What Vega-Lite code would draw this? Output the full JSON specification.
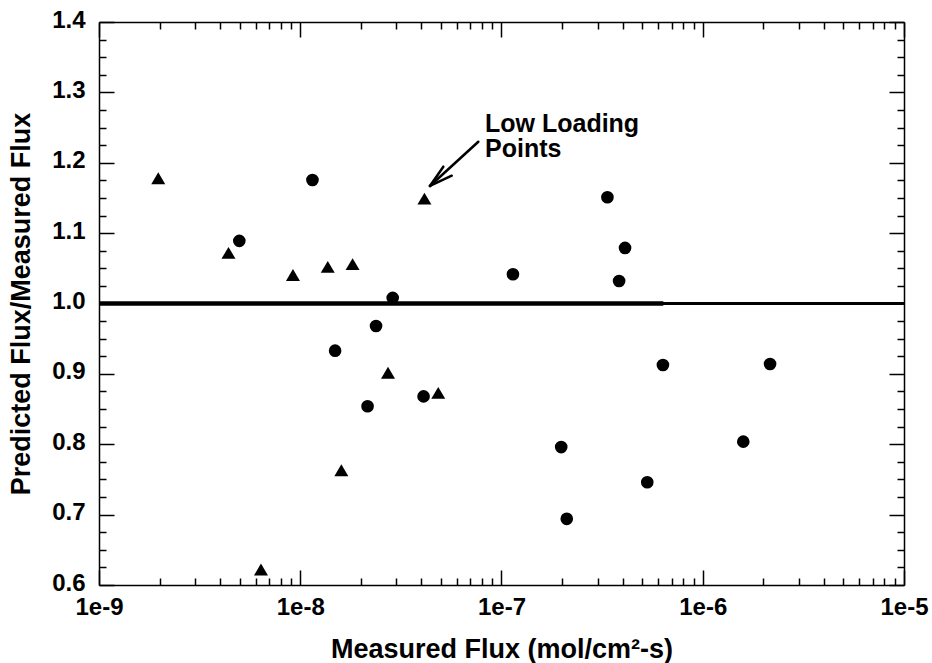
{
  "$schema": "https://vega.github.io/schema/vega-lite/v6.json",
  "width": 805,
  "height": 563,
  "autosize": {"type": "none"},
  "padding": {"left": 99, "top": 22, "right": 28, "bottom": 78},
  "background": "white",
  "config": {
    "view": {"stroke": null},
    "font": "Liberation Sans",
    "axis": {
      "domainColor": "black",
      "domainWidth": 1.5,
      "tickColor": "black",
      "tickWidth": 1.5,
      "grid": false,
      "labelFont": "Liberation Sans",
      "labelFontWeight": "bold",
      "labelFontSize": 24,
      "labelColor": "black",
      "labelOverlap": false,
      "labelFlush": false,
      "titleFont": "Liberation Sans",
      "titleFontWeight": "bold",
      "titleFontSize": 27,
      "titleColor": "black"
    }
  },
  "datasets": {
    "pts": [
      {"flux": 1.15e-8, "ratio": 1.1755, "type": "circle"},
      {"flux": 4.98e-9, "ratio": 1.089, "type": "circle"},
      {"flux": 3.36e-7, "ratio": 1.151, "type": "circle"},
      {"flux": 1.14e-7, "ratio": 1.0415, "type": "circle"},
      {"flux": 2.88e-8, "ratio": 1.008, "type": "circle"},
      {"flux": 2.38e-8, "ratio": 0.968, "type": "circle"},
      {"flux": 4.11e-7, "ratio": 1.079, "type": "circle"},
      {"flux": 3.84e-7, "ratio": 1.032, "type": "circle"},
      {"flux": 1.49e-8, "ratio": 0.933, "type": "circle"},
      {"flux": 4.10e-8, "ratio": 0.868, "type": "circle"},
      {"flux": 2.16e-8, "ratio": 0.854, "type": "circle"},
      {"flux": 1.98e-7, "ratio": 0.796, "type": "circle"},
      {"flux": 2.11e-7, "ratio": 0.694, "type": "circle"},
      {"flux": 6.34e-7, "ratio": 0.9126, "type": "circle"},
      {"flux": 2.16e-6, "ratio": 0.914, "type": "circle"},
      {"flux": 1.59e-6, "ratio": 0.8037, "type": "circle"},
      {"flux": 5.30e-7, "ratio": 0.746, "type": "circle"},
      {"flux": 1.97e-9, "ratio": 1.178, "type": "triangle"},
      {"flux": 4.40e-9, "ratio": 1.072, "type": "triangle"},
      {"flux": 9.2e-9, "ratio": 1.0405, "type": "triangle"},
      {"flux": 4.14e-8, "ratio": 1.149, "type": "triangle"},
      {"flux": 1.37e-8, "ratio": 1.052, "type": "triangle"},
      {"flux": 1.82e-8, "ratio": 1.056, "type": "triangle"},
      {"flux": 2.73e-8, "ratio": 0.9017, "type": "triangle"},
      {"flux": 4.85e-8, "ratio": 0.873, "type": "triangle"},
      {"flux": 1.60e-8, "ratio": 0.763, "type": "triangle"},
      {"flux": 6.38e-9, "ratio": 0.622, "type": "triangle"}
    ]
  },
  "resolve": {"axis": {"x": "independent", "y": "independent"}},
  "layer": [
    {
      "data": {"values": [{"x1": 1e-9, "x2": 1e-5, "y": 1}]},
      "mark": {"type": "rule", "color": "black", "strokeWidth": 3},
      "encoding": {
        "x": {"field": "x1", "type": "quantitative", "scale": {"type": "log", "domain": [1e-9, 1e-5], "nice": false},
          "axis": {
            "orient": "bottom",
            "values": [1e-9,2e-9,3e-9,4e-9,5e-9,6e-9,7e-9,8e-9,9e-9,1e-8,2e-8,3e-8,4e-8,5e-8,6e-8,7e-8,8e-8,9e-8,1e-7,2e-7,3e-7,4e-7,5e-7,6e-7,7e-7,8e-7,9e-7,1e-6,2e-6,3e-6,4e-6,5e-6,6e-6,7e-6,8e-6,9e-6,1e-5],
            "tickSize": {"condition": {"test": "abs(log(datum.value)/LN10 - round(log(datum.value)/LN10)) < 0.01", "value": -15}, "value": -7},
            "labelExpr": "abs(log(datum.value)/LN10 - round(log(datum.value)/LN10)) < 0.01 ? '1e' + round(log(datum.value)/LN10) : ''",
            "labelPadding": 44,
            "labelBaseline": "alphabetic",
            "title": "Measured Flux (mol/cm²-s)",
            "titleBaseline": "alphabetic",
            "titleY": 72
          }},
        "x2": {"field": "x2"},
        "y": {"field": "y", "type": "quantitative", "scale": {"domain": [0.6, 1.4], "nice": false, "zero": false},
          "axis": {
            "orient": "left",
            "values": [0.6,0.625,0.65,0.675,0.7,0.725,0.75,0.775,0.8,0.825,0.85,0.875,0.9,0.925,0.95,0.975,1.0,1.025,1.05,1.075,1.1,1.125,1.15,1.175,1.2,1.225,1.25,1.275,1.3,1.325,1.35,1.375,1.4],
            "tickSize": {"condition": {"test": "abs(datum.value*10 - round(datum.value*10)) < 0.01", "value": -15}, "value": -7},
            "labelExpr": "abs(datum.value*10 - round(datum.value*10)) < 0.01 ? format(datum.value, '.1f') : ''",
            "labelPadding": 29,
            "labelOffset": -2,
            "title": "Predicted Flux/Measured Flux",
            "titleX": -64,
            "titleY": 281.5
          }}
      }
    },
    {
      "data": {"values": [{"x1": 1e-9, "x2": 6.37e-7, "y": 1}]},
      "mark": {"type": "rule", "color": "black", "strokeWidth": 4.5},
      "encoding": {
        "x": {"field": "x1", "type": "quantitative",
          "axis": {
            "orient": "top",
            "values": [1e-9,2e-9,3e-9,4e-9,5e-9,6e-9,7e-9,8e-9,9e-9,1e-8,2e-8,3e-8,4e-8,5e-8,6e-8,7e-8,8e-8,9e-8,1e-7,2e-7,3e-7,4e-7,5e-7,6e-7,7e-7,8e-7,9e-7,1e-6,2e-6,3e-6,4e-6,5e-6,6e-6,7e-6,8e-6,9e-6,1e-5],
            "tickSize": {"condition": {"test": "abs(log(datum.value)/LN10 - round(log(datum.value)/LN10)) < 0.01", "value": -15}, "value": -7},
            "labels": false,
            "title": null
          }},
        "x2": {"field": "x2"},
        "y": {"field": "y", "type": "quantitative",
          "axis": {
            "orient": "right",
            "values": [0.6,0.625,0.65,0.675,0.7,0.725,0.75,0.775,0.8,0.825,0.85,0.875,0.9,0.925,0.95,0.975,1.0,1.025,1.05,1.075,1.1,1.125,1.15,1.175,1.2,1.225,1.25,1.275,1.3,1.325,1.35,1.375,1.4],
            "tickSize": {"condition": {"test": "abs(datum.value*10 - round(datum.value*10)) < 0.01", "value": -15}, "value": -7},
            "labels": false,
            "title": null
          }}
      }
    },
    {
      "data": {"name": "pts"},
      "transform": [{"filter": "datum.type === 'circle'"}],
      "mark": {"type": "point", "shape": "circle", "filled": true, "color": "black", "opacity": 1, "size": 160},
      "encoding": {
        "x": {"field": "flux", "type": "quantitative", "axis": null},
        "y": {"field": "ratio", "type": "quantitative", "axis": null}
      }
    },
    {
      "data": {"name": "pts"},
      "transform": [{"filter": "datum.type === 'triangle'"}],
      "mark": {"type": "point", "shape": "M-1,0.85L1,0.85L0,-0.85Z", "filled": true, "color": "black", "opacity": 1, "size": 196},
      "encoding": {
        "x": {"field": "flux", "type": "quantitative", "axis": null},
        "y": {"field": "ratio", "type": "quantitative", "axis": null}
      }
    },
    {
      "data": {"values": [
        {"xa": 7.67e-8, "ya": 1.2299, "xb": 4.41e-8, "yb": 1.167},
        {"xa": 5.14e-8, "ya": 1.1944, "xb": 4.41e-8, "yb": 1.167},
        {"xa": 5.66e-8, "ya": 1.1816, "xb": 4.41e-8, "yb": 1.167}
      ]},
      "mark": {"type": "rule", "color": "black", "strokeWidth": 2.5, "strokeCap": "round"},
      "encoding": {
        "x": {"field": "xa", "type": "quantitative", "axis": null},
        "y": {"field": "ya", "type": "quantitative", "axis": null},
        "x2": {"field": "xb"},
        "y2": {"field": "yb"}
      }
    },
    {
      "data": {"values": [
        {"label": "Low Loading\nPoints", "x": 8.28e-8, "y": 1.2437}
      ]},
      "mark": {"type": "text", "align": "left", "baseline": "alphabetic", "lineBreak": "\n", "lineHeight": 25.5, "font": "Liberation Sans", "fontWeight": "bold", "fontSize": 25, "color": "black"},
      "encoding": {
        "x": {"field": "x", "type": "quantitative", "axis": null},
        "y": {"field": "y", "type": "quantitative", "axis": null},
        "text": {"field": "label"}
      }
    }
  ]
}
